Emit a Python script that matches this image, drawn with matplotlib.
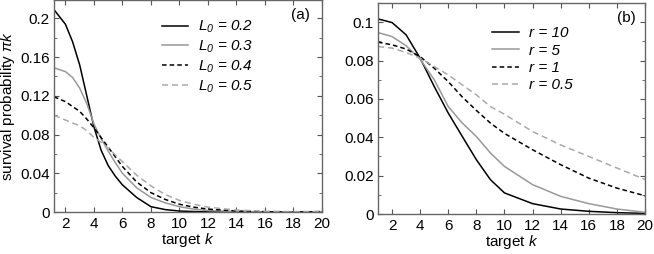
import matplotlib
matplotlib.use('Agg')
import matplotlib.pyplot as plt
from matplotlib.ticker import MultipleLocator

plt.rcParams['font.family'] = ['Liberation Sans', 'DejaVu Sans']
plt.rcParams['mathtext.fontset'] = 'custom'
plt.rcParams['mathtext.it'] = 'Liberation Sans:italic'
plt.rcParams['mathtext.rm'] = 'Liberation Sans:italic'
plt.rcParams['font.size'] = 11

# panel (a): varying L0
k_a = [1.2, 2, 2.5, 3, 3.5, 4, 4.5, 5, 5.5, 6, 7, 8, 9, 10, 11, 12, 14, 16, 18, 20]
pi_L02 = [0.209, 0.194, 0.176, 0.152, 0.120, 0.088, 0.064, 0.048, 0.037, 0.028, 0.015,
          0.0055, 0.0025, 0.001, 0.0005, 0.0002, 0, 0, 0, 0.0003]
pi_L03 = [0.149, 0.145, 0.139, 0.128, 0.112, 0.091, 0.076, 0.063, 0.051, 0.040, 0.025,
          0.015, 0.0095, 0.0055, 0.003, 0.0015, 0.0004, 0.0001, 0, 0.0002]
pi_L04 = [0.119, 0.114, 0.109, 0.104, 0.096, 0.087, 0.077, 0.067, 0.057, 0.047, 0.031,
          0.020, 0.013, 0.008, 0.005, 0.003, 0.001, 0.0003, 0.0001, 0.0004]
pi_L05 = [0.100, 0.095, 0.092, 0.089, 0.084, 0.077, 0.072, 0.066, 0.059, 0.052, 0.038,
          0.027, 0.018, 0.012, 0.008, 0.005, 0.002, 0.0008, 0.0004, 0.0006]
labels_a = [r'$L_0$ = 0.2', r'$L_0$ = 0.3', r'$L_0$ = 0.4', r'$L_0$ = 0.5']
yticks_a = [0, 0.04, 0.08, 0.12, 0.16, 0.2]
yticklabels_a = ['0', '0.04', '0.08', '0.12', '0.16', '0.2']

# panel (b): varying r
k_b = [1, 2, 3, 4, 5, 6, 7, 8, 9, 10, 12, 14, 16, 18, 20]
pi_r10 = [0.1017, 0.0998, 0.0934, 0.0812, 0.0665, 0.0526, 0.0404, 0.0283, 0.0179, 0.011,
          0.0054, 0.0026, 0.0014, 0.0007, 0.0003]
pi_r5 = [0.0946, 0.0925, 0.0877, 0.0807, 0.070, 0.056, 0.0474, 0.0404, 0.0318, 0.0248,
         0.0153, 0.0092, 0.0054, 0.0026, 0.0009]
pi_r1 = [0.0896, 0.0882, 0.086, 0.082, 0.076, 0.069, 0.061, 0.054, 0.0474, 0.042,
         0.0335, 0.0257, 0.0187, 0.0135, 0.0095]
pi_r05 = [0.0873, 0.0865, 0.0842, 0.0812, 0.0769, 0.0725, 0.0673, 0.0621, 0.056, 0.052,
          0.043, 0.036, 0.030, 0.024, 0.018]
labels_b = ['r = 10', 'r = 5', 'r = 1', 'r = 0.5']
yticks_b = [0, 0.02, 0.04, 0.06, 0.08, 0.1]
yticklabels_b = ['0', '0.02', '0.04', '0.06', '0.08', '0.1']

xticks = [2, 4, 6, 8, 10, 12, 14, 16, 18, 20]

styles = [
    dict(color='black', linestyle='-'),
    dict(color='#999999', linestyle='-'),
    dict(color='black', linestyle=(0, (3, 2))),
    dict(color='#aaaaaa', linestyle=(0, (4, 2.5))),
]

fig = plt.figure(figsize=(6.54, 2.54), dpi=100)
ax1 = fig.add_axes([54 / 654, 1 - 212 / 254, 268 / 654, 212 / 254])
ax2 = fig.add_axes([378 / 654, 1 - 214 / 254, 267 / 654, 211 / 254])


def style_axes(ax, yticks, yticklabels, ylim, yminor, xlim):
    ax.set_xlim(*xlim)
    ax.set_ylim(*ylim)
    ax.set_xticks(xticks)
    ax.set_yticks(yticks)
    ax.set_yticklabels(yticklabels)
    ax.yaxis.set_minor_locator(MultipleLocator(yminor))
    ax.tick_params(which='both', direction='in', top=True, right=True,
                   color='#555555', labelsize=11)
    ax.tick_params(axis='x', pad=3.5)
    ax.tick_params(axis='y', pad=3)
    ax.tick_params(which='major', length=3.5)
    ax.tick_params(which='minor', length=2.5)
    for s in ax.spines.values():
        s.set_color('#666666')
        s.set_linewidth(1.0)
    ax.set_xlabel(r'target $k$', labelpad=0)


leg_kw = dict(loc='upper left', frameon=False, borderpad=0, borderaxespad=0,
              handlelength=1.75, handletextpad=0.65, labelspacing=0.22,
              prop={'style': 'italic', 'size': 11})

series_a = [pi_L02, pi_L03, pi_L04, pi_L05]
for vals, lab, st in zip(series_a, labels_a, styles):
    ax1.plot(k_a, vals, lw=1.1, label=lab, **st)
style_axes(ax1, yticks_a, yticklabels_a, (0, 0.219), 0.02, (1.2, 20))
ax1.set_ylabel(r'survival probability $\pi k$', labelpad=2)
ax1.legend(bbox_to_anchor=(0.402, 0.91), **leg_kw)
ax1.text(0.92, 0.93, '(a)', transform=ax1.transAxes, ha='center', va='center')

series_b = [pi_r10, pi_r5, pi_r1, pi_r05]
for vals, lab, st in zip(series_b, labels_b, styles):
    ax2.plot(k_b, vals, lw=1.1, label=lab, **st)
style_axes(ax2, yticks_b, yticklabels_b, (0, 0.11), 0.01, (1, 20))
ax2.legend(bbox_to_anchor=(0.4265, 0.89), **leg_kw)
ax2.text(0.93, 0.93, '(b)', transform=ax2.transAxes, ha='center', va='center')

fig.savefig('out.png', dpi=100)
